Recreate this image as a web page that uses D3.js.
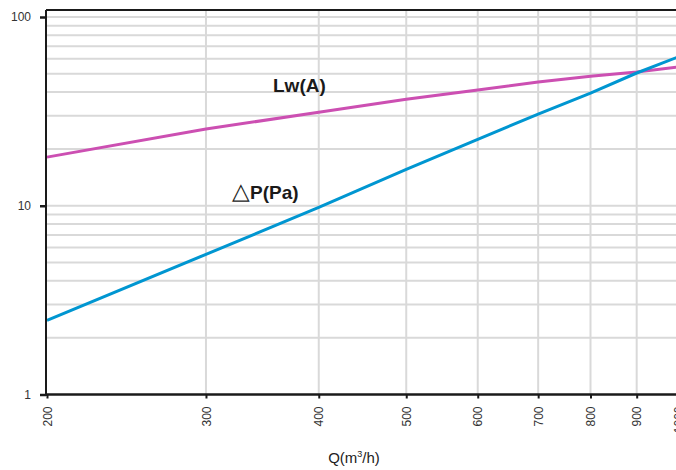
<!DOCTYPE html>
<html><head><meta charset="utf-8">
<script src="https://cdn.jsdelivr.net/npm/d3@7"></script>
<style>html,body{margin:0;padding:0;background:#fff;overflow:hidden}svg{display:block;font-family:"Liberation Sans",Arial,sans-serif}</style>
</head><body>
<svg id="c" width="676" height="470"></svg>
<script>
const flows = [200, 300, 400, 500, 600, 700, 800, 900, 1000];
const lwA = [18.1, 25.5, 31.3, 36.7, 41.0, 45.2, 48.6, 51.1, 54.3];
const dP = [2.47, 5.53, 9.8, 15.6, 22.5, 30.6, 39.5, 50.5, 61.4];
const xTicks = [200, 300, 400, 500, 600, 700, 800, 900, 1000];
const yTicks = [1, 10, 100];
const yGrid = [2,3,4,5,6,7,8,9,10,20,30,40,50,60,70,80,90,100];

(function () {
const svg = d3.select("#c");
const x = d3.scaleLog().domain([200, 1000]).range([47, 678]);
const y = d3.scaleLog().domain([1, 100]).range([394.5, 17]);
const topY = 10, rightX = 676;

// grid
svg.append("g").selectAll("line").data(yGrid).join("line")
  .attr("x1", 47).attr("x2", rightX).attr("y1", d => y(d)).attr("y2", d => y(d))
  .attr("stroke", "#d9d9d9").attr("stroke-width", 2);
svg.append("g").selectAll("line").data(xTicks.slice(1)).join("line")
  .attr("x1", d => x(d)).attr("x2", d => x(d)).attr("y1", topY).attr("y2", 394)
  .attr("stroke", "#d9d9d9").attr("stroke-width", 2);

// series
const line = d3.line().x((d, i) => x(flows[i])).y(d => y(d));
svg.append("path").datum(lwA).attr("d", line).attr("fill", "none")
  .attr("stroke", "#cc4fb2").attr("stroke-width", 3);
svg.append("path").datum(dP).attr("d", line).attr("fill", "none")
  .attr("stroke", "#0096d1").attr("stroke-width", 3);

// axes
const xAxis = d3.axisBottom(x).tickValues(xTicks).tickFormat(d3.format("d")).tickSize(4).tickSizeOuter(0);
const gx = svg.append("g").attr("transform", "translate(0,394.5)").call(xAxis);
gx.select(".domain").attr("stroke", "#1a1a1a").attr("stroke-width", 2.5).attr("d", `M46,0H${rightX}`);
gx.selectAll(".tick line").attr("stroke", "#1a1a1a").attr("stroke-width", 2);
gx.selectAll(".tick text").attr("transform", "rotate(-90)").attr("text-anchor", "end")
  .attr("x", -12).attr("y", 0).attr("dy", "0.35em").attr("font-size", 12).attr("fill", "#333");

const yAxis = d3.axisLeft(y).tickValues(yTicks).tickFormat(d3.format("d")).tickSize(6).tickSizeOuter(0);
const gy = svg.append("g").attr("transform", "translate(46,0)").call(yAxis);
gy.select(".domain").attr("stroke", "#1a1a1a").attr("stroke-width", 2).attr("d", `M0,${topY}V396`);
gy.selectAll(".tick line").attr("stroke", "#1a1a1a").attr("stroke-width", 2.5);
gy.selectAll(".tick text").attr("x", -15).attr("font-size", 12).attr("fill", "#333");

// top border
svg.append("line").attr("x1", 46).attr("x2", rightX).attr("y1", topY).attr("y2", topY)
  .attr("stroke", "#1a1a1a").attr("stroke-width", 2);

// labels
svg.append("text").attr("x", 273).attr("y", 92)
  .attr("font-size", 19).attr("font-weight", "bold").attr("fill", "#1a1a1a").text("Lw(A)");
const dl = svg.append("text").attr("x", 232).attr("y", 199)
  .attr("font-size", 19).attr("font-weight", "bold").attr("fill", "#1a1a1a");
dl.append("tspan").attr("font-size", 23).attr("font-weight", "normal").text("△");
dl.append("tspan").text("P(Pa)");

const t = svg.append("text").attr("x", 354).attr("y", 463).attr("text-anchor", "middle")
  .attr("font-size", 15).attr("fill", "#222");
t.append("tspan").text("Q(m");
t.append("tspan").attr("font-size", 9).attr("dy", -6).text("3");
t.append("tspan").attr("dy", 6).text("/h)");
})();
</script>
</body></html>
